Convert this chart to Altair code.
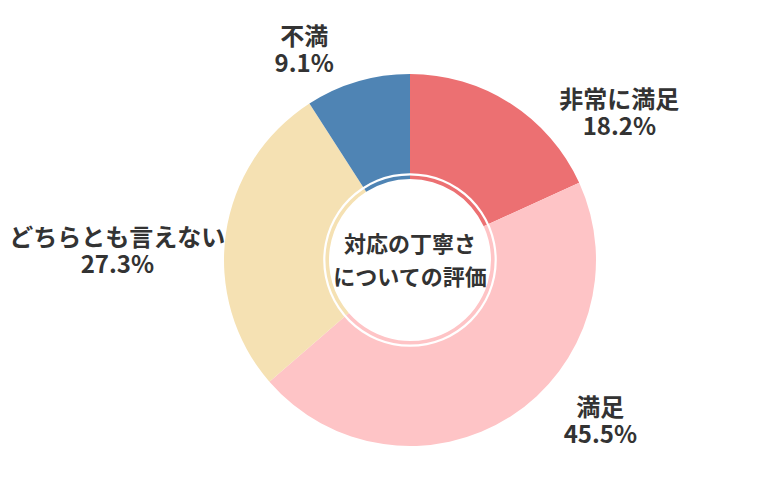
import altair as alt
import pandas as pd

categories = ["非常に満足", "満足", "どちらとも言えない", "不満"]
counts = [2, 5, 3, 1]
percent_labels = ["18.2%", "45.5%", "27.3%", "9.1%"]
colors = ["#EC7072", "#FEC4C6", "#F5E1B3", "#4F84B4"]
center_title = ["対応の丁寧さ", "についての評価"]

df = pd.DataFrame({
    "category": categories,
    "count": counts,
    "pct": percent_labels,
    "idx": list(range(len(categories))),
})
df["label"] = [[c, p] for c, p in zip(categories, percent_labels)]
total = sum(counts)

CX, CY = 410, 260
FONT = "Noto Sans CJK JP"
LH = 27

arcs = alt.Chart(df).mark_arc(outerRadius=186, innerRadius=81).encode(
    theta=alt.Theta("count:Q", stack=True),
    order=alt.Order("idx:Q"),
    color=alt.Color("category:N",
                    scale=alt.Scale(domain=categories, range=colors),
                    legend=None),
    x=alt.value(CX),
    y=alt.value(CY),
)

ring = alt.Chart(pd.DataFrame({"v": [1]})).mark_arc(
    theta=0, theta2=6.2832, innerRadius=84.6, outerRadius=86.8, color="white"
).encode(x=alt.value(CX), y=alt.value(CY))

offsets = {
    "非常に満足": (85, 48),
    "満足": (66, -31),
    "どちらとも言えない": (-65, 25),
    "不満": (-41, 12),
}

text_base = alt.Chart(df).transform_window(
    cum="sum(count)", sort=[alt.SortField("idx")]
).transform_calculate(
    mid="datum.cum - datum.count / 2"
)

label_layers = []
for cat in categories:
    dx, dy = offsets[cat]
    label_layers.append(
        text_base.transform_filter(alt.datum.category == cat)
        .mark_text(radius=230, dx=dx, dy=dy - LH / 2, font=FONT, fontSize=24,
                   fontWeight="bold", color="#333333", lineHeight=LH,
                   align="center", baseline="middle")
        .encode(
            theta=alt.Theta("mid:Q", stack=None,
                            scale=alt.Scale(domain=[0, total])),
            text="label",
            x=alt.value(CX),
            y=alt.value(CY),
        )
    )

center = alt.Chart(pd.DataFrame({"t": [center_title]})).mark_text(
    font=FONT, fontSize=22, fontWeight="bold", color="#333333",
    lineHeight=33, align="center", baseline="middle", dy=-16
).encode(text="t", x=alt.value(CX), y=alt.value(CY + 1))

chart = alt.layer(arcs, ring, *label_layers, center).resolve_scale(
    theta="independent"
).properties(
    width=780, height=500, padding=0, autosize="none", background="white"
).configure_view(stroke=None)

chart.save("out.html", embed_options={"renderer": "svg", "actions": False})
